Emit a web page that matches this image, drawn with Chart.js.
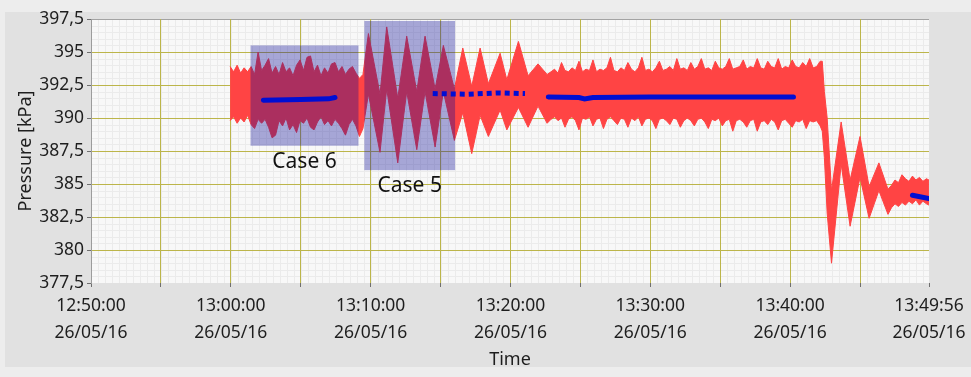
<!DOCTYPE html>
<html>
<head>
<meta charset="utf-8">
<script src="https://cdn.jsdelivr.net/npm/chart.js@4/dist/chart.umd.min.js"></script>
<style>
  html, body { margin: 0; padding: 0; background: #ededed; }
  canvas { display: block; }
</style>
</head>
<body>
<canvas id="chart" width="971" height="377"></canvas>
<script>
// Pressure record of 26/05/16. Time is given in minutes after 12:50:00.

// Red trace: the band between the highest and lowest reading at each sample time.
const redTime = [
  9.95, 10.2, 10.45, 10.7, 10.95, 11.2, 11.45, 11.7, 11.95, 12.2,
  12.45, 12.7, 12.95, 13.2, 13.45, 13.7, 13.95, 14.2, 14.45, 14.7,
  14.95, 15.2, 15.45, 15.7, 15.95, 16.2, 16.45, 16.7, 16.95, 17.2,
  17.45, 17.7, 17.95, 18.2, 18.45, 18.7, 18.95, 19.2, 19.45,
  19.84, 20.67, 21.15, 21.94, 22.58, 23.30, 23.89, 24.61, 25.20, 25.99,
  26.59, 27.23, 27.83, 28.42, 29.26, 29.74, 30.57, 31.26, 31.97, 32.62,
  32.9, 33.15, 33.4, 33.65, 33.9, 34.15, 34.4, 34.65, 34.9, 35.15,
  35.4, 35.65, 35.9, 36.15, 36.4, 36.65, 36.9, 37.15, 37.4, 37.65,
  37.9, 38.15, 38.4, 38.65, 38.9, 39.15, 39.4, 39.65, 39.9, 40.15,
  40.4, 40.65, 40.9, 41.15, 41.4, 41.65, 41.9, 42.15, 42.4, 42.65,
  42.9, 43.15, 43.4, 43.65, 43.9, 44.15, 44.4, 44.65, 44.9, 45.15,
  45.4, 45.65, 45.9, 46.15, 46.4, 46.65, 46.9, 47.15, 47.4, 47.65,
  47.9, 48.15, 48.4, 48.65, 48.9, 49.15, 49.4, 49.65, 49.9, 50.15,
  50.4, 50.65, 50.9, 51.15, 51.4, 51.65, 51.9, 52.15, 52.3,
  52.45, 52.65, 52.96, 53.65, 54.29, 55.0, 55.65, 56.35, 57.0, 57.25,
  57.5, 57.75, 58.0, 58.25, 58.5, 58.75, 59.0, 59.25, 59.5, 59.75, 59.93
];
const redHigh = [
  393.9, 393.5, 394.0, 393.4, 393.8, 393.5, 393.9, 393.3, 395.0, 393.6,
  394.0, 394.5, 393.4, 393.9, 393.3, 394.2, 393.5, 393.8, 393.2, 394.0,
  394.4, 393.6, 394.6, 394.7, 393.5, 394.0, 393.2, 393.8, 393.4, 394.1,
  394.2, 393.5, 393.9, 393.3, 393.7, 393.9, 393.4, 393.0, 393.3,
  396.4, 391.8, 396.9, 391.5, 396.2, 392.0, 396.2, 392.2, 395.5, 392.2,
  395.3, 392.4, 395.3, 392.6, 394.9, 392.9, 395.8, 393.2, 394.1, 393.3,
  393.5, 393.7, 393.4, 394.2, 393.6, 393.5, 393.8, 393.6, 394.3, 393.5,
  393.7, 393.6, 394.4, 393.5, 393.7, 393.6, 393.8, 394.6, 393.6, 393.5,
  393.8, 393.6, 394.2, 393.7, 393.5, 393.8, 394.6, 393.6, 393.7, 393.5,
  393.8, 394.3, 393.6, 393.7, 393.9, 393.6, 394.5, 393.7, 393.8, 393.6,
  394.2, 393.7, 393.9, 394.5, 393.7, 393.8, 393.6, 394.3, 393.8, 393.7,
  393.9, 394.5, 393.7, 393.8, 393.9, 394.4, 393.7, 393.9, 393.8, 394.5,
  393.8, 393.7, 394.3, 393.9, 393.8, 394.5, 393.7, 393.9, 393.8, 394.4,
  393.9, 393.8, 394.2, 393.9, 394.5, 393.8, 393.9, 394.3, 394.3,
  392.0, 390.0, 384.5, 389.7, 385.3, 388.6, 384.8, 386.6, 384.6, 384.9,
  385.3, 385.1, 385.7, 385.4, 385.2, 385.6, 385.3, 385.5, 385.2, 385.4, 385.3
];
const redLow = [
  389.8, 390.1, 389.6, 390.0, 389.7, 390.2, 389.5, 389.2, 389.9, 389.6,
  389.9, 389.3, 388.5, 388.7, 389.8, 389.4, 390.0, 389.1, 389.5, 388.9,
  389.8, 389.6, 390.0, 389.3, 389.1, 389.7, 390.1, 389.5, 389.8, 389.4,
  389.9, 389.6, 389.2, 388.7, 389.5, 389.9, 389.4, 388.6, 389.2,
  391.8, 387.4, 392.2, 386.6, 392.0, 387.6, 392.0, 387.8, 392.0, 388.3,
  390.4, 387.3, 390.2, 388.6, 390.6, 389.1, 390.8, 389.3, 390.9, 389.6,
  389.9, 390.1, 389.8, 390.0, 389.3, 389.9, 390.1, 389.8, 389.1, 390.0,
  389.9, 390.1, 389.4, 389.9, 390.0, 389.2, 389.9, 390.1, 389.8, 389.5,
  390.0, 389.9, 389.3, 390.0, 389.8, 390.1, 389.4, 389.9, 390.0, 389.8,
  389.2, 389.9, 390.0, 389.8, 389.5, 390.0, 389.9, 389.3, 389.8, 390.0,
  389.8, 389.4, 389.9, 390.0, 389.7, 389.2, 389.9, 389.8, 390.0, 389.4,
  389.8, 389.9, 389.0, 389.8, 389.9, 389.7, 389.3, 389.8, 389.9, 389.0,
  389.7, 389.8, 389.5, 389.9, 389.7, 389.1, 389.8, 389.9, 389.6, 389.3,
  389.8, 389.7, 389.9, 389.2, 389.8, 389.7, 389.8, 389.4, 389.0,
  387.0, 382.8, 379.0, 386.5, 381.8, 385.5, 382.4, 384.5, 382.7, 383.2,
  383.5, 383.3, 383.6, 383.4, 383.7, 383.5, 383.8, 383.4, 383.7, 383.5, 383.4
];

// Blue traces: mean pressure over the steady stretches.
const meanCase6Time = [12.33, 15.0, 17.0, 17.45];
const meanCase6 = [391.35, 391.4, 391.45, 391.55];
const meanDottedTime = [24.44, 27.0, 29.0, 31.04];
const meanDotted = [391.85, 391.8, 391.9, 391.85];
const meanMainTime = [32.71, 34.9, 35.3, 35.9, 40.0, 50.24];
const meanMain = [391.6, 391.55, 391.45, 391.55, 391.6, 391.6];
const meanEndTime = [58.75, 59.93];
const meanEnd = [384.15, 383.9];

// Highlighted test cases.
const caseNames = ['Case 6', 'Case 5'];
const caseStart = [11.41, 19.55];
const caseEnd = [19.13, 26.04];
const caseTop = [395.5, 397.35];
const caseBottom = [387.9, 386.05];

// Axes.
const timeMin = 0;
const timeMax = 59 + 56 / 60;
const xGridMinutes = [0, 5, 10, 15, 20, 25, 30, 35, 40, 45, 50, 55, timeMax];
const xTickMinutes = [0, 10, 20, 30, 40, 50, timeMax];
const xTickLabels = [
  ['12:50:00', '26/05/16'], ['13:00:00', '26/05/16'], ['13:10:00', '26/05/16'],
  ['13:20:00', '26/05/16'], ['13:30:00', '26/05/16'], ['13:40:00', '26/05/16'],
  ['13:49:56', '26/05/16']
];
const yTickValues = [377.5, 380, 382.5, 385, 387.5, 390, 392.5, 395, 397.5];
const yTickLabels = ['377,5', '380', '382,5', '385', '387,5', '390', '392,5', '395', '397,5'];
const minorStepTime = 0.5;
const minorStepPressure = 0.5;

const RED = 'rgb(255,68,68)';
const BLUE = 'rgb(0,14,212)';
const MAJOR_GRID = 'rgb(188,181,74)';
const TEXT = '#1e1e1e';

const pts = (xs, ys) => xs.map((x, i) => ({ x, y: ys[i] }));
const near = (a, b) => Math.abs(a - b) < 1e-6;

const backdrop = {
  id: 'backdrop',
  beforeDraw(chart) {
    const { ctx, chartArea: a, scales: { x, y } } = chart;
    ctx.save();
    ctx.fillStyle = '#ededed';
    ctx.fillRect(0, 0, chart.width, chart.height);
    ctx.fillStyle = '#e1e1e1';
    ctx.fillRect(5, 12, chart.width - 5, 355);
    ctx.fillStyle = '#f8f8f8';
    ctx.fillRect(a.left, a.top, a.right - a.left, a.bottom - a.top);
    ctx.strokeStyle = '#ebebeb';
    ctx.lineWidth = 1;
    ctx.beginPath();
    for (let v = timeMin + minorStepTime; v < timeMax; v += minorStepTime) {
      const px = Math.round(x.getPixelForValue(v)) + 0.5;
      ctx.moveTo(px, a.top); ctx.lineTo(px, a.bottom);
    }
    for (let v = y.min + minorStepPressure; v < y.max; v += minorStepPressure) {
      const py = Math.round(y.getPixelForValue(v)) + 0.5;
      ctx.moveTo(a.left, py); ctx.lineTo(a.right, py);
    }
    ctx.stroke();
    ctx.strokeStyle = '#a3a3a3';
    ctx.beginPath();
    ctx.moveTo(a.left, Math.round(a.top) + 0.5);
    ctx.lineTo(a.right, Math.round(a.top) + 0.5);
    ctx.stroke();
    ctx.restore();
  }
};

const caseBoxes = {
  id: 'caseBoxes',
  afterDatasetDraw(chart, args) {
    if (args.index !== 1) return;
    const { ctx, scales: { x, y } } = chart;
    ctx.save();
    caseNames.forEach((name, i) => {
      const l = x.getPixelForValue(caseStart[i]);
      const r = x.getPixelForValue(caseEnd[i]);
      const t = y.getPixelForValue(caseTop[i]);
      const b = y.getPixelForValue(caseBottom[i]);
      ctx.fillStyle = 'rgba(8,8,150,0.34)';
      ctx.fillRect(l, t, r - l, b - t);
      ctx.fillStyle = '#111';
      ctx.font = '21px "Noto Sans", sans-serif';
      ctx.textAlign = 'center';
      ctx.textBaseline = 'alphabetic';
      ctx.fillText(name, (l + r) / 2, b + 22);
    });
    ctx.restore();
  }
};

Chart.defaults.font.family = '"Noto Sans", sans-serif';
Chart.defaults.color = TEXT;

const meanLine = (data, dashed, order) => ({
  data, borderColor: BLUE, borderWidth: 5, pointRadius: 0, fill: false,
  borderDash: dashed ? [5, 4] : [], borderCapStyle: dashed ? 'butt' : 'round',
  order
});

new Chart(document.getElementById('chart'), {
  type: 'line',
  data: {
    datasets: [
      { data: pts(redTime, redHigh), borderColor: RED, backgroundColor: RED, borderWidth: 1,
        pointRadius: 0, fill: false, order: 11 },
      { data: pts(redTime, redLow), borderColor: RED, backgroundColor: RED, borderWidth: 1,
        pointRadius: 0, fill: '-1', order: 10 },
      meanLine(pts(meanCase6Time, meanCase6), false, 3),
      meanLine(pts(meanDottedTime, meanDotted), true, 2),
      meanLine(pts(meanMainTime, meanMain), false, 1),
      meanLine(pts(meanEndTime, meanEnd), false, 0)
    ]
  },
  options: {
    responsive: false,
    animation: false,
    layout: { padding: { left: 0, right: 42, top: 19, bottom: 0 } },
    plugins: { legend: { display: false }, tooltip: { enabled: false } },
    elements: { line: { tension: 0 } },
    scales: {
      x: {
        type: 'linear', min: timeMin, max: timeMax,
        afterBuildTicks(scale) { scale.ticks = xGridMinutes.map(v => ({ value: v })); },
        afterFit(scale) { scale.height = 94; },
        ticks: {
          autoSkip: false, maxRotation: 0, minRotation: 0, padding: 5.4,
          font: { size: 17.5, lineHeight: 1.55 }, color: TEXT,
          callback(value) {
            const i = xTickMinutes.findIndex(t => near(t, value));
            return i >= 0 ? xTickLabels[i] : '';
          }
        },
        grid: {
          color: ctx => (ctx.tick && (near(ctx.tick.value, timeMin) || near(ctx.tick.value, timeMax))) ? 'rgba(0,0,0,0)' : MAJOR_GRID,
          lineWidth: 1, tickLength: 4, tickColor: '#6f6f6f'
        },
        border: { display: false },
        title: { display: true, text: 'Time', color: TEXT, font: { size: 18 }, padding: { top: 0, bottom: 6 } }
      },
      y: {
        type: 'linear', min: 377.5, max: 397.5,
        afterBuildTicks(scale) { scale.ticks = yTickValues.map(v => ({ value: v })); },
        afterFit(scale) { scale.width = 91; },
        ticks: {
          padding: 3, font: { size: 17.5 }, color: TEXT,
          callback(value) {
            const i = yTickValues.findIndex(t => near(t, value));
            return i >= 0 ? yTickLabels[i] : '';
          }
        },
        grid: {
          color: ctx => (ctx.tick && (near(ctx.tick.value, 377.5) || near(ctx.tick.value, 397.5))) ? 'rgba(0,0,0,0)' : MAJOR_GRID,
          lineWidth: 1, tickLength: 4, tickColor: '#6f6f6f'
        },
        border: { display: true, color: '#9c9c9c', width: 1 },
        title: { display: true, text: 'Pressure [kPa]', color: TEXT, font: { size: 18 }, padding: { top: 15, bottom: 0 } }
      }
    }
  },
  plugins: [backdrop, caseBoxes]
});
</script>
</body>
</html>
